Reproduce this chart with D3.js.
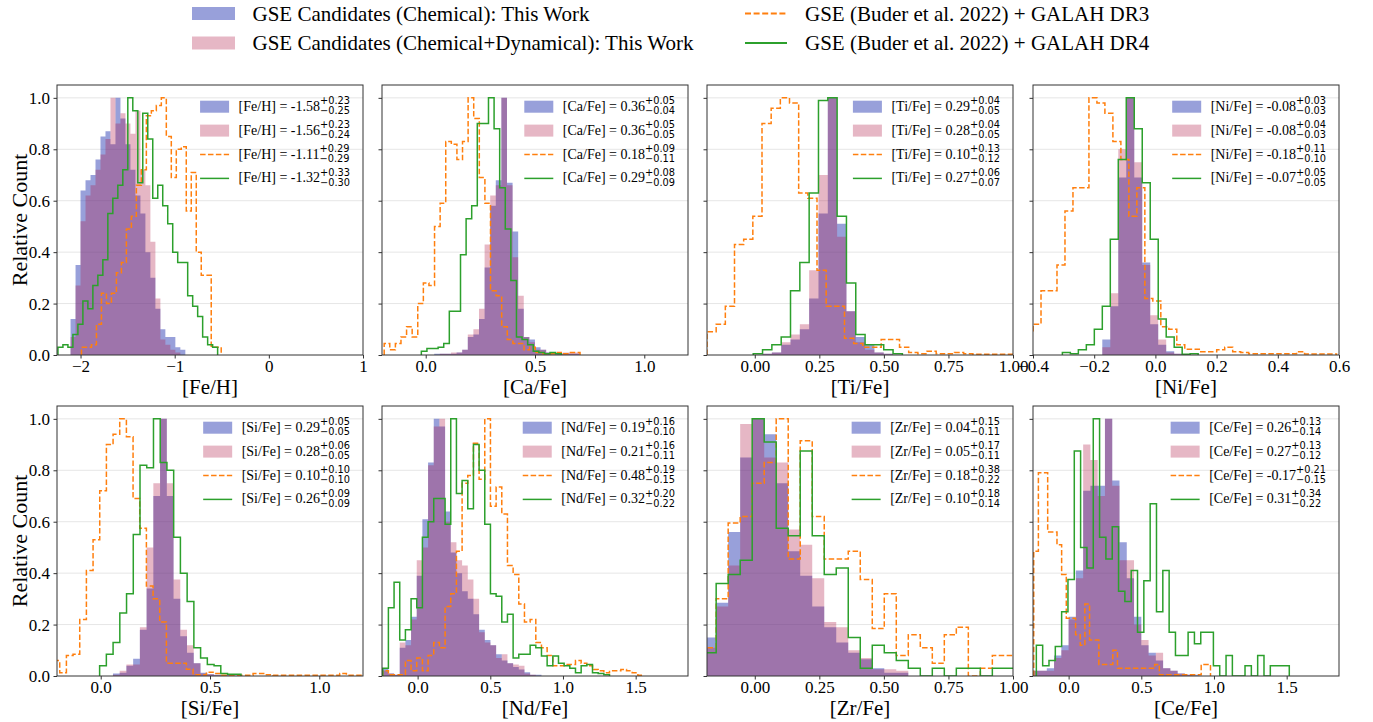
<!DOCTYPE html>
<html>
<head>
<meta charset="utf-8">
<title>GSE abundance histograms</title>
<script src="https://d3js.org/d3.v7.min.js"></script>
<style>
  body { margin: 0; background: #fff; }
  svg { display: block; font-family: "Liberation Serif", "Times New Roman", serif; }
  .axis path { display: none; }
  .axis line { stroke: #333; }
  .axis text { font-family: "Liberation Serif", serif; font-size: 17px; fill: #000; }
  .frame { fill: none; stroke: #333; stroke-width: 1; }
  .grid { stroke: #e6e6e6; stroke-width: 1; }
  .sub { font-family: "DejaVu Sans", sans-serif; font-size: 9.8px; }
</style>
</head>
<body>
<script>
// ---------- data (bin start, bin width, relative counts) ----------
const feh_chem = { x0: -2.106, w: 0.053, n: [0.14,0.35,0.64,0.68,0.70,0.76,0.85,0.87,0.82,1.0,0.92,0.82,0.72,0.62,0.55,0.40,0.30,0.18,0.10,0.07,0.07,0.03,0.02] };
const feh_dyn  = { x0: -2.106, w: 0.053, n: [0.07,0.27,0.52,0.62,0.66,0.72,0.78,0.84,1.0,0.90,0.94,0.90,0.86,0.95,0.72,0.66,0.44,0.22,0.06,0.04,0.02,0.01] };
const feh_dr3  = { x0: -1.99, w: 0.053, n: [0.03,0.03,0.04,0.12,0.24,0.20,0.24,0.32,0.36,0.49,0.54,0.66,0.72,0.93,0.95,0.97,1.0,0.85,0.69,0.80,0.81,0.56,0.71,0.40,0.31,0.31,0.03,0.03] };
const feh_dr4  = { x0: -2.24, w: 0.053, n: [0.03,0.04,0.03,0.08,0.12,0.21,0.18,0.27,0.31,0.37,0.55,0.61,0.66,0.72,1.0,0.95,0.67,0.94,0.84,0.61,0.66,0.58,0.51,0.40,0.36,0.36,0.23,0.19,0.15,0.07,0.04,0.03] };

const ca_chem = { x0: 0.039, w: 0.0256, n: [0.005,0.005,0.005,0.005,0.01,0.02,0.07,0.08,0.14,0.34,0.58,0.68,1.0,0.67,0.48,0.18,0.07,0.06,0.03,0.02,0.01,0.005,0.005,0.005,0.005,0.005] };
const ca_dyn  = { x0: 0.039, w: 0.0256, n: [0,0.005,0.005,0.01,0.01,0.02,0.08,0.10,0.18,0.43,0.62,0.66,1.0,0.66,0.38,0.23,0.07,0.05,0.02,0.02,0.01,0,0.005,0.01,0.01,0.01] };
const ca_dr3  = { x0: -0.19, w: 0.0256, n: [0.045,0.02,0.045,0.07,0.11,0.07,0.20,0.28,0.27,0.50,0.59,0.83,0.82,0.76,0.83,1.0,0.92,0.69,0.59,0.25,0.23,0.11,0.06,0.045,0.045,0.02,0.03,0.01,0.005,0.005,0.005,0.01,0.005,0.01,0.01] };
const ca_dr4  = { x0: -0.02, w: 0.0256, n: [0.015,0.025,0.025,0.03,0.045,0.17,0.17,0.39,0.53,0.58,0.90,0.90,1.0,0.88,0.65,0.49,0.29,0.07,0.06,0.04,0.015,0.01,0.005,0.01,0.005] };

const ti_chem = { x0: -0.006, w: 0.0361, n: [0,0.005,0.01,0.04,0.06,0.10,0.22,0.55,1.0,0.51,0.17,0.07,0.04,0.01,0.005] };
const ti_dyn  = { x0: -0.006, w: 0.0361, n: [0,0.005,0.01,0.05,0.08,0.12,0.33,0.70,1.0,0.46,0.17,0.05,0.02,0.01,0.005] };
const ti_dr3  = { x0: -0.185, w: 0.0355, n: [0.09,0.12,0.19,0.43,0.45,0.54,0.90,0.96,1.0,0.98,0.63,0.61,0.33,0.19,0.19,0.065,0.045,0.03,0.03,0.06,0.06,0.03,0.01,0.005,0.015,0.005,0.005,0.01,0.005,0.003,0.003,0.003,0.003,0.003] };
const ti_dr4  = { x0: -0.006, w: 0.0361, n: [0.005,0.02,0.04,0.07,0.25,0.36,0.63,0.99,1.0,0.54,0.28,0.08,0.04,0.04,0.02,0.005] };

const ni_chem = { x0: -0.1735, w: 0.0261, n: [0.06,0.19,0.69,1.0,0.69,0.36,0.12,0.04,0.015,0.005] };
const ni_dyn  = { x0: -0.1735, w: 0.0261, n: [0.03,0.24,0.80,1.0,0.75,0.35,0.155,0.06,0.01,0.005] };
const ni_dr3  = { x0: -0.426, w: 0.0261, n: [0.09,0.12,0.25,0.25,0.35,0.56,0.65,0.65,1.0,0.98,0.94,0.83,0.76,0.54,0.65,0.22,0.21,0.11,0.10,0.04,0.022,0.022,0.013,0.013,0.02,0.03,0.013,0.01,0.005,0.005,0.005,0.005,0.005,0.005,0.013,0.004,0.004,0.004,0.004] };
const ni_dr4  = { x0: -0.304, w: 0.0261, n: [0.01,0.005,0.02,0.04,0.10,0.19,0.45,0.76,1.0,0.88,0.67,0.45,0.14,0.07,0.03,0.003,0.005] };

const si_chem = { x0: 0.056, w: 0.0308, n: [0.01,0.013,0.04,0.067,0.18,0.34,0.70,1.0,0.70,0.30,0.155,0.09,0.05,0.013,0.007,0.005,0.003,0.005,0.002] };
const si_dyn  = { x0: 0.056, w: 0.0308, n: [0.005,0.02,0.045,0.045,0.19,0.50,0.75,1.0,0.75,0.375,0.18,0.12,0.05,0.01,0.007,0.003,0.003,0.002,0] };
const si_dr3  = { x0: -0.218, w: 0.0305, n: [0.06,0.013,0.08,0.085,0.22,0.41,0.53,0.72,0.90,0.94,1.0,0.93,0.69,0.575,0.35,0.30,0.21,0.05,0.05,0.05,0.026,0.005,0.005,0.015,0.01,0.003,0.003,0.003,0.003,0.003,0.01,0.01,0.005,0.003,0.003,0.003,0.003,0.003,0.003,0.003,0.003,0.003,0.003,0.01,0.003,0.003,0.003] };
const si_dr4  = { x0: -0.005, w: 0.0308, n: [0.04,0.085,0.13,0.245,0.32,0.55,0.82,0.81,1.0,0.83,0.80,0.54,0.40,0.29,0.11,0.07,0.045,0.04,0.01,0.007,0.007] };

const nd_chem = { x0: -0.24, w: 0.039, n: [0.03,0.01,0.005,0.11,0.14,0.23,0.39,0.61,0.83,1.0,0.97,0.64,0.48,0.40,0.33,0.30,0.24,0.18,0.14,0.12,0.085,0.06,0.05,0.035,0.025,0.015,0.005,0.005] };
const nd_dyn  = { x0: -0.24, w: 0.039, n: [0.02,0.01,0.005,0.13,0.12,0.22,0.45,0.50,0.82,0.97,1.0,0.60,0.52,0.45,0.43,0.375,0.30,0.17,0.13,0.12,0.07,0.085,0.05,0.045,0.04,0.01,0.005] };
const nd_dr3  = { x0: -0.24, w: 0.039, n: [0.02,0.005,0.005,0.005,0.06,0.02,0.07,0.02,0.08,0.13,0.11,0.27,0.32,0.485,0.75,0.78,0.905,0.765,1.0,0.66,0.735,0.63,0.43,0.395,0.28,0.21,0.22,0.13,0.11,0.08,0.04,0.04,0.045,0.045,0.06,0.05,0.04,0.025,0.02,0.013,0.02,0.02,0.025,0.02,0.013,0.003] };
const nd_dr4  = { x0: -0.24, w: 0.039, n: [0.03,0.265,0.365,0.14,0.18,0.30,0.265,0.54,0.60,0.69,0.69,0.59,1.0,0.71,0.76,0.65,0.90,0.80,0.59,0.32,0.31,0.21,0.24,0.07,0.085,0.085,0.12,0.11,0.078,0.04,0.078,0.05,0.04,0.03,0.013,0.04,0.045,0.013,0.01,0.005] };

const zr_chem = { x0: -0.196, w: 0.0465, n: [0.15,0.285,0.56,0.85,1.0,0.94,0.75,0.485,0.39,0.27,0.19,0.13,0.09,0.065,0.03,0.013,0.013] };
const zr_dyn  = { x0: -0.196, w: 0.0465, n: [0.11,0.27,0.43,0.98,1.0,0.85,0.83,0.57,0.51,0.38,0.21,0.19,0.10,0.07,0.026,0.026,0.02] };
const zr_dr3  = { x0: -0.196, w: 0.0465, n: [0.11,0.30,0.595,0.62,0.75,0.83,1.0,0.455,0.915,0.62,0.455,0.455,0.485,0.375,0.185,0.32,0.08,0.16,0.11,0.05,0.16,0.19,0.0,0.03,0.08,0.08] };
const zr_dr4  = { x0: -0.196, w: 0.0465, n: [0.09,0.36,0.395,0.45,1.0,0.91,0.575,0.545,0.875,0.545,0.395,0.42,0.15,0.03,0.12,0.09,0.06,0.03,0,0.03,0,0.03,0.03,0,0.03,0.03] };

const ce_chem = { x0: -0.25, w: 0.05, n: [0.02,0.02,0.03,0.08,0.12,0.23,0.41,0.72,0.74,0.74,1.0,0.76,0.52,0.38,0.23,0.12,0.09,0.06,0.03,0.02,0.01,0.005,0.005] };
const ce_dyn  = { x0: -0.25, w: 0.05, n: [0.02,0.02,0.02,0.07,0.10,0.22,0.38,0.90,0.84,0.70,1.0,0.74,0.45,0.45,0.20,0.14,0.08,0.09,0.03,0.02,0.01,0.005,0] };
const ce_dr3  = { x0: -0.24, w: 0.032, n: [0.485,0.79,0.79,0.56,0.56,0.51,0.395,0.225,0.225,0.16,0.12,0.28,0.14,0.14,0.045,0.045,0.045,0.10,0.03,0.03,0.03,0.03,0.03,0.03,0.03,0.03,0.045,0.005,0.005,0.005,0.005,0.005,0.005,0.005,0.005,0.005,0.045,0.045] };
const ce_dr4  = { x0: -0.222, w: 0.0435, n: [0.12,0.04,0.06,0.115,0.25,0.375,0.875,0.5,0.42,1.0,0.54,0.455,0.58,0.33,0.29,0.41,0.17,0.37,0.67,0.25,0.41,0.17,0.08,0.08,0.17,0.125,0.17,0.17,0.04,0,0.08,0,0,0.04,0,0.08,0,0.04,0.04,0.04] };

const elements = ["[Fe/H]", "[Ca/Fe]", "[Ti/Fe]", "[Ni/Fe]", "[Si/Fe]", "[Nd/Fe]", "[Zr/Fe]", "[Ce/Fe]"];
const xDomains = [[-2.25, 1], [-0.2, 1.2], [-0.185, 1.0], [-0.4, 0.6], [-0.2, 1.2], [-0.245, 1.86], [-0.185, 1.0], [-0.245, 1.86]];
const xTicks = [[-2, -1, 0, 1], [0, 0.5, 1], [0, 0.25, 0.5, 0.75, 1], [-0.4, -0.2, 0, 0.2, 0.4, 0.6],
                [0, 0.5, 1], [0, 0.5, 1, 1.5], [0, 0.25, 0.5, 0.75, 1], [0, 0.5, 1, 1.5]];
const xFormats = ["d", ".1f", ".2f", ".1f", ".1f", ".1f", ".2f", ".1f"];
const yTicks = [0, 0.2, 0.4, 0.6, 0.8, 1.0];

// median and 16/84 percentile offsets per panel: chem, chem+dyn, DR3, DR4
const stats = [
  [["-1.58", "+0.23", "−0.25"], ["-1.56", "+0.23", "−0.24"], ["-1.11", "+0.29", "−0.29"], ["-1.32", "+0.33", "−0.30"]],
  [["0.36", "+0.05", "−0.04"], ["0.36", "+0.05", "−0.05"], ["0.18", "+0.09", "−0.11"], ["0.29", "+0.08", "−0.09"]],
  [["0.29", "+0.04", "−0.05"], ["0.28", "+0.04", "−0.05"], ["0.10", "+0.13", "−0.12"], ["0.27", "+0.06", "−0.07"]],
  [["-0.08", "+0.03", "−0.03"], ["-0.08", "+0.04", "−0.03"], ["-0.18", "+0.11", "−0.10"], ["-0.07", "+0.05", "−0.05"]],
  [["0.29", "+0.05", "−0.05"], ["0.28", "+0.06", "−0.05"], ["0.10", "+0.10", "−0.10"], ["0.26", "+0.09", "−0.09"]],
  [["0.19", "+0.16", "−0.10"], ["0.21", "+0.16", "−0.11"], ["0.48", "+0.19", "−0.15"], ["0.32", "+0.20", "−0.22"]],
  [["0.04", "+0.15", "−0.11"], ["0.05", "+0.17", "−0.11"], ["0.18", "+0.38", "−0.22"], ["0.10", "+0.18", "−0.14"]],
  [["0.26", "+0.13", "−0.14"], ["0.27", "+0.13", "−0.12"], ["-0.17", "+0.21", "−0.15"], ["0.31", "+0.34", "−0.22"]]
];
const seriesNames = ["GSE Candidates (Chemical): This Work", "GSE Candidates (Chemical+Dynamical): This Work",
                     "GSE (Buder et al. 2022) + GALAH DR3", "GSE (Buder et al. 2022) + GALAH DR4"];

const panelSeries = [
  [feh_chem, feh_dyn, feh_dr3, feh_dr4], [ca_chem, ca_dyn, ca_dr3, ca_dr4],
  [ti_chem, ti_dyn, ti_dr3, ti_dr4], [ni_chem, ni_dyn, ni_dr3, ni_dr4],
  [si_chem, si_dyn, si_dr3, si_dr4], [nd_chem, nd_dyn, nd_dr3, nd_dr4],
  [zr_chem, zr_dyn, zr_dr3, zr_dr4], [ce_chem, ce_dyn, ce_dr3, ce_dr4]
];

// ---------- styling / layout ----------
// pink is drawn over blue; overlap comes out purple
const blue = "#3141b5", blueAlpha = 0.5;
const pink = "#ac103e", pinkAlpha = 0.3;
const orange = "#ff7f0e", green = "#2ca02c";

const width = 1373, height = 722;
const colX = [57, 382, 707, 1033], rowY = [85, 406];
const pw = 306, ph = 270;

const svg = d3.select("body").append("svg")
  .attr("width", width)
  .attr("height", height);

function fillPoints(s) {
  let pts = s.n.map((v, k) => [s.x0 + k * s.w, v]);
  pts.push([s.x0 + s.n.length * s.w, s.n[s.n.length - 1]]);
  return pts;
}

function stepPoints(s) {
  let pts = [[s.x0, 0]];
  s.n.forEach((v, k) => {
    pts.push([s.x0 + k * s.w, v]);
    pts.push([s.x0 + (k + 1) * s.w, v]);
  });
  pts.push([s.x0 + s.n.length * s.w, 0]);
  return pts;
}

function drawPanel(i) {
  let col = i % 4, row = Math.floor(i / 4);
  let left = colX[col], top = rowY[row];
  let series = panelSeries[i];

  let x = d3.scaleLinear().domain(xDomains[i]).range([left, left + pw]);
  let y = d3.scaleLinear().domain([0, 1.05]).range([top + ph, top]);

  let g = svg.append("g");

  g.append("clipPath").attr("id", "clip" + i)
    .append("rect")
    .attr("x", left).attr("y", top)
    .attr("width", pw).attr("height", ph);

  // grid
  g.append("g").selectAll("line")
    .data(yTicks.slice(1))
    .join("line")
    .attr("class", "grid")
    .attr("x1", left).attr("x2", left + pw)
    .attr("y1", d => y(d)).attr("y2", d => y(d));

  let plot = g.append("g").attr("clip-path", "url(#clip" + i + ")");

  let area = d3.area()
    .x(d => x(d[0]))
    .y0(y(0))
    .y1(d => y(d[1]))
    .curve(d3.curveStepAfter);

  let line = d3.line()
    .x(d => x(d[0]))
    .y(d => y(d[1]));

  plot.append("path").attr("d", area(fillPoints(series[0])))
    .attr("fill", blue).attr("fill-opacity", blueAlpha);
  plot.append("path").attr("d", area(fillPoints(series[1])))
    .attr("fill", pink).attr("fill-opacity", pinkAlpha);
  plot.append("path").attr("d", line(stepPoints(series[2])))
    .attr("fill", "none").attr("stroke", orange).attr("stroke-width", 1.5)
    .attr("stroke-dasharray", "5.5,2.4");
  plot.append("path").attr("d", line(stepPoints(series[3])))
    .attr("fill", "none").attr("stroke", green).attr("stroke-width", 1.5);

  // axes
  let xAxis = d3.axisBottom(x)
    .tickValues(xTicks[i])
    .tickFormat(d3.format(xFormats[i]))
    .tickSize(3.5).tickPadding(1);
  g.append("g").attr("class", "axis")
    .attr("transform", "translate(0," + (top + ph) + ")")
    .call(xAxis);

  let yAxis = d3.axisLeft(y)
    .tickValues(yTicks)
    .tickFormat(col === 0 ? d3.format(".1f") : () => "")
    .tickSize(3.5).tickPadding(3.5);
  g.append("g").attr("class", "axis")
    .attr("transform", "translate(" + left + ",0)")
    .call(yAxis);

  g.append("rect").attr("class", "frame")
    .attr("x", left).attr("y", top)
    .attr("width", pw).attr("height", ph);

  // x label
  g.append("text")
    .attr("x", left + pw / 2).attr("y", top + ph + 39)
    .attr("text-anchor", "middle")
    .attr("font-size", 21)
    .text(elements[i]);

  if (col === 0) {
    g.append("text")
      .attr("transform", "translate(27," + (top + ph / 2) + ") rotate(-90)")
      .attr("text-anchor", "middle")
      .attr("font-size", 22)
      .text("Relative Count");
  }

  // legend
  let lg = g.append("g");
  let rows = [];
  let maxW = 0;
  stats[i].forEach((st, k) => {
    let cy = top + 21.7 + 23.9 * k;
    let t = lg.append("g");
    let main = t.append("text").attr("y", cy + 4).attr("font-size", 14)
      .text(elements[i] + " = " + st[0]);
    let mw = main.node().getComputedTextLength();
    let sup = t.append("text").attr("class", "sub").attr("x", mw).attr("y", cy - 2.4).text(st[1]);
    let sub = t.append("text").attr("class", "sub").attr("x", mw).attr("y", cy + 7.3).text(st[2]);
    let w = mw + Math.max(sup.node().getComputedTextLength(), sub.node().getComputedTextLength());
    maxW = Math.max(maxW, w);
    rows.push({ t, cy });
  });
  let textX = left + pw - 13 - maxW;
  let hx0 = textX - 38.5, hx1 = textX - 9.5;
  rows.forEach((r, k) => {
    r.t.attr("transform", "translate(" + textX + ",0)");
    if (k < 2) {
      lg.append("rect").attr("x", hx0).attr("y", r.cy - 6)
        .attr("width", hx1 - hx0).attr("height", 12)
        .attr("fill", k === 0 ? blue : pink)
        .attr("fill-opacity", k === 0 ? blueAlpha : pinkAlpha);
    } else {
      lg.append("line").attr("x1", hx0).attr("x2", hx1)
        .attr("y1", r.cy).attr("y2", r.cy)
        .attr("stroke", k === 2 ? orange : green).attr("stroke-width", 1.5)
        .attr("stroke-dasharray", k === 2 ? "5.5,2.4" : null);
    }
  });
}

elements.forEach((e, i) => drawPanel(i));

// ---------- figure legend ----------
let fl = svg.append("g");
[13.5, 43].forEach((cy, k) => {
  fl.append("rect").attr("x", 192).attr("y", cy - 6.5)
    .attr("width", 43).attr("height", 13)
    .attr("fill", k === 0 ? blue : pink)
    .attr("fill-opacity", k === 0 ? blueAlpha : pinkAlpha);
  fl.append("text").attr("x", 252.5).attr("y", cy + 7.2).attr("font-size", 21)
    .text(seriesNames[k]);
});
[13.5, 43].forEach((cy, k) => {
  fl.append("line").attr("x1", 745).attr("x2", 787)
    .attr("y1", cy).attr("y2", cy)
    .attr("stroke", k === 0 ? orange : green).attr("stroke-width", 2)
    .attr("stroke-dasharray", k === 0 ? "6,2.6" : null);
  fl.append("text").attr("x", 805).attr("y", cy + 7.2).attr("font-size", 21)
    .text(seriesNames[k + 2]);
});
</script>
</body>
</html>
